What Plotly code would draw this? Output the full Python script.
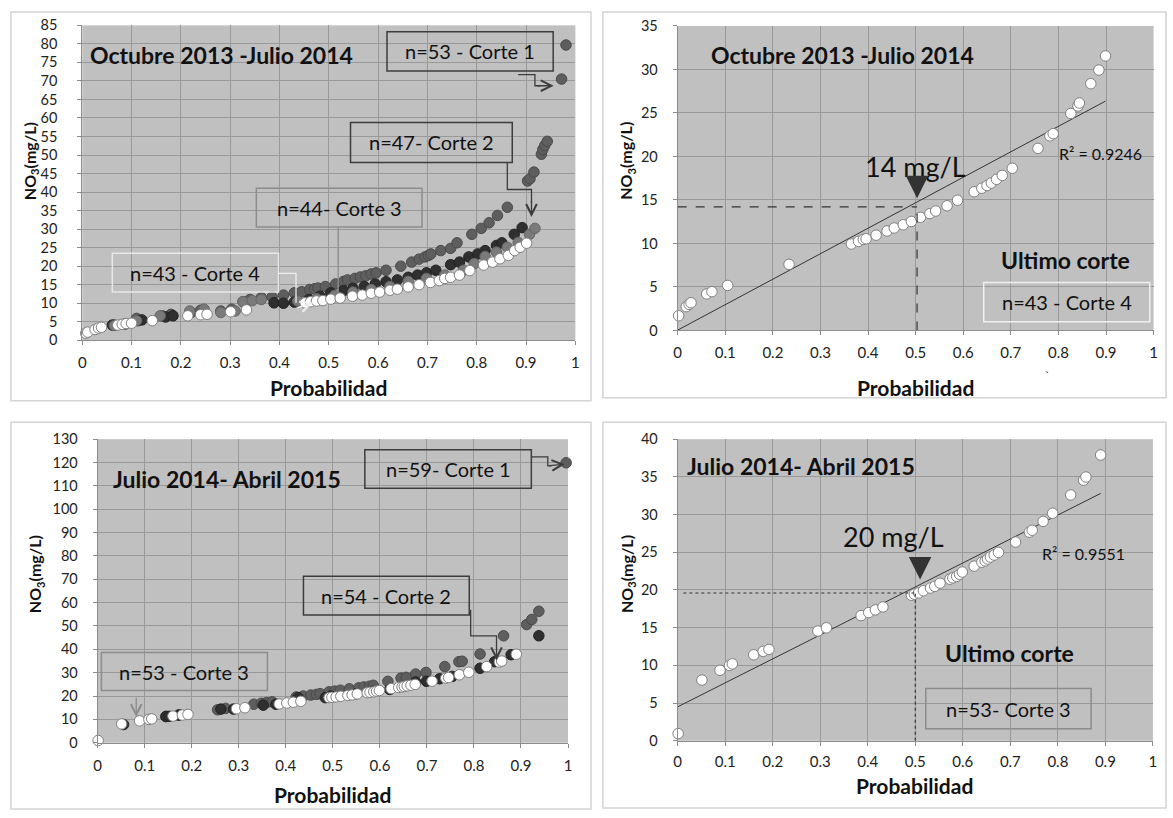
import numpy as np
import plotly.graph_objects as go

# ---------------- DATA ----------------
# Panel 1: Octubre 2013 - Julio 2014, all cuts
p1_c1_x = [0.065, 0.11, 0.162, 0.18, 0.221, 0.24, 0.281, 0.303, 0.326, 0.34, 0.363, 0.385, 0.408, 0.43, 0.445,
           0.461, 0.471, 0.478, 0.493, 0.514, 0.53, 0.538, 0.553, 0.564, 0.575, 0.586, 0.596, 0.616, 0.646, 0.668,
           0.683, 0.695, 0.702, 0.707, 0.727, 0.747, 0.76, 0.79, 0.809, 0.825, 0.842, 0.862, 0.903, 0.908, 0.916,
           0.931, 0.934, 0.938, 0.943, 0.972, 0.981]
p1_c1_y = [4.1, 5.9, 6.6, 7.0, 7.5, 8.1, 7.9, 8.4, 10.4, 11.0, 11.5, 11.7, 12.2, 12.8, 13.1,
           13.7, 13.9, 14.1, 14.5, 15.2, 15.9, 16.3, 16.7, 17.1, 17.4, 17.9, 18.2, 18.9, 20.0, 21.1,
           21.9, 22.5, 22.9, 23.3, 24.2, 24.8, 26.3, 28.6, 30.2, 31.7, 33.7, 35.9, 43.0, 43.6, 45.4,
           50.2, 51.5, 52.6, 53.7, 70.5, 79.7]

p1_c2_x = [0.061, 0.087, 0.113, 0.121, 0.169, 0.184, 0.389, 0.408, 0.43, 0.46, 0.482, 0.504, 0.53, 0.549, 0.572,
           0.594, 0.616, 0.639, 0.661, 0.68, 0.698, 0.717, 0.747, 0.765, 0.784, 0.802, 0.817, 0.84, 0.851, 0.876, 0.892]
p1_c2_y = [4.1, 4.4, 5.3, 5.5, 6.3, 6.6, 10.1, 10.0, 10.3, 11.0, 11.9, 12.8, 13.4, 14.0, 14.5,
           15.2, 15.8, 16.3, 17.0, 17.6, 18.2, 18.9, 20.4, 21.1, 22.5, 23.3, 24.2, 25.6, 26.3, 28.6, 30.4]

p1_c3_x = [0.065, 0.11, 0.158, 0.218, 0.247, 0.281, 0.31, 0.326, 0.345, 0.363, 0.437, 0.475, 0.512, 0.549, 0.586,
           0.624, 0.661, 0.698, 0.735, 0.773, 0.795, 0.817, 0.84, 0.862, 0.884, 0.907, 0.918]
p1_c3_y = [4.0, 5.3, 6.6, 7.9, 8.4, 7.5, 7.9, 10.4, 10.7, 11.0, 10.6, 11.2, 12.1, 13.0, 13.7,
           14.5, 15.9, 16.7, 17.6, 18.9, 20.7, 22.6, 23.8, 25.1, 26.4, 28.6, 30.2]

p1_c4_x = [0.007, 0.011, 0.026, 0.033, 0.039, 0.072, 0.081, 0.089, 0.1, 0.142, 0.214, 0.24, 0.253, 0.301, 0.333,
           0.452, 0.463, 0.475, 0.488, 0.504, 0.523, 0.548, 0.568, 0.586, 0.603, 0.624, 0.639, 0.661, 0.683, 0.706,
           0.724, 0.735, 0.747, 0.765, 0.786, 0.814, 0.832, 0.847, 0.864, 0.877, 0.888, 0.901]
p1_c4_y = [1.9, 2.2, 2.9, 3.3, 3.5, 4.1, 4.3, 4.5, 4.6, 5.3, 6.6, 6.9, 7.0, 7.7, 8.2,
           10.1, 10.4, 10.6, 10.7, 11.1, 11.4, 11.9, 12.2, 12.7, 13.0, 13.5, 13.8, 14.4, 15.0, 15.6,
           16.1, 16.7, 17.0, 17.6, 18.8, 20.3, 21.1, 22.0, 22.9, 24.2, 25.1, 26.2]

# Panel 2: Octubre 2013 - Julio 2014, last cut (Corte 4)
p2_x = [0.002, 0.018, 0.024, 0.028, 0.061, 0.072, 0.105, 0.234, 0.365, 0.38, 0.39, 0.396, 0.417, 0.44, 0.455,
        0.474, 0.491, 0.51, 0.53, 0.542, 0.566, 0.588, 0.623, 0.639, 0.65, 0.659, 0.67, 0.682, 0.703, 0.757,
        0.782, 0.789, 0.826, 0.841, 0.844, 0.868, 0.885, 0.899]
p2_y = [1.69, 2.74, 3.0, 3.19, 4.2, 4.46, 5.18, 7.6, 9.94, 10.24, 10.46, 10.54, 10.95, 11.44, 11.78,
        12.15, 12.53, 13.0, 13.43, 13.73, 14.33, 14.97, 15.94, 16.35, 16.65, 16.95, 17.37, 17.82, 18.64, 20.93,
        22.36, 22.62, 24.94, 25.8, 26.14, 28.36, 29.93, 31.55]
p2_trend_slope, p2_trend_intercept = 29.28, 0.04   # linear trend line as drawn in the source
p2_r2 = "0.9246"
p2_median = 14.2

# Panel 3: Julio 2014 - Abril 2015, all cuts
p3_c1_x = [0.146, 0.174, 0.255, 0.272, 0.332, 0.348, 0.359, 0.371, 0.422, 0.437, 0.453, 0.465, 0.473, 0.492, 0.504,
           0.516, 0.535, 0.555, 0.566, 0.578, 0.586, 0.617, 0.645, 0.656, 0.676, 0.698, 0.738, 0.768, 0.775, 0.813,
           0.863, 0.912, 0.923, 0.938, 0.996]
p3_c1_y = [11.3, 12.0, 14.1, 14.7, 16.5, 16.9, 17.2, 17.5, 19.6, 20.0, 20.4, 20.7, 21.0, 21.8, 22.1,
           22.5, 23.1, 23.5, 23.9, 24.2, 24.6, 26.3, 27.7, 28.0, 29.4, 30.1, 32.6, 34.7, 34.9, 38.0,
           45.8, 50.6, 52.8, 56.3, 119.9]

p3_c2_x = [0.055, 0.145, 0.152, 0.172, 0.262, 0.289, 0.352, 0.379, 0.426, 0.484, 0.496, 0.55, 0.585, 0.621, 0.676,
           0.699, 0.727, 0.754, 0.813, 0.844, 0.879, 0.938]
p3_c2_y = [7.8, 11.2, 11.3, 11.8, 14.4, 14.4, 16.1, 16.5, 19.3, 19.3, 20.0, 21.0, 22.0, 22.8, 26.0,
           26.3, 27.4, 28.4, 31.9, 34.7, 37.7, 45.8]

# Panel 3 white series & Panel 4: Corte 3 (last cut)
p4_x = [0.001, 0.051, 0.089, 0.109, 0.115, 0.16, 0.18, 0.192, 0.295, 0.313, 0.386, 0.402, 0.416, 0.432, 0.492,
        0.498, 0.507, 0.517, 0.532, 0.541, 0.552, 0.573, 0.579, 0.587, 0.593, 0.599, 0.624, 0.64, 0.647, 0.652,
        0.658, 0.666, 0.675, 0.711, 0.74, 0.746, 0.769, 0.789, 0.827, 0.854, 0.859, 0.89]
p4_y = [0.95, 8.05, 9.35, 10.0, 10.2, 11.4, 11.86, 12.12, 14.55, 14.98, 16.6, 17.0, 17.36, 17.75, 19.3,
        19.44, 19.6, 19.9, 20.26, 20.48, 20.9, 21.43, 21.6, 21.8, 22.08, 22.38, 23.16, 23.68, 23.85, 24.1,
        24.37, 24.63, 24.98, 26.36, 27.66, 27.92, 29.1, 30.17, 32.6, 34.55, 34.98, 37.9]
p4_trend_slope, p4_trend_intercept = 31.8, 4.5
p4_r2 = "0.9551"
p4_median = 19.6

x_ticks = [0, 0.1, 0.2, 0.3, 0.4, 0.5, 0.6, 0.7, 0.8, 0.9, 1]

# ---------------- STYLE ----------------
FONT = "Lato"
BG = "#c0c0c0"
GRID = "#999999"
C1 = "#5e5e5e"
C2 = "#2f2f2f"
C3 = "#7a7a7a"
C4 = "#ffffff"
W, H = 1173, 818
MS = 10.5


def px2x(px):
    return px / W


def px2y(py):
    return 1 - py / H


fig = go.Figure()

# panel: x-pixels, y-pixels, ymax, dtick, y-label standoff, x-label standoff
dom = {
    1: ([78.8, 575.3], [16.7, 338.3], 85, 5, 17, 5),
    2: ([678.3, 1157.5], [17.3, 328.3], 35, 5, 12, 5),
    3: ([94.3, 567.9], [439.3, 749.3], 130, 10, 12, 5),
    4: ([678.3, 1156.8], [439.3, 747.3], 40, 5, 12, 3),
}

layout = dict(width=W, height=H, margin=dict(l=0, r=0, t=0, b=0), paper_bgcolor="white",
              plot_bgcolor=BG, showlegend=False, font=dict(family=FONT, color="#1a1a1a", size=14))
for k, (xp, yp, ymax, dt, ysd, xsd) in dom.items():
    sx = "" if k == 1 else str(k)
    layout["xaxis" + sx] = dict(domain=[px2x(xp[0]), px2x(xp[1])], range=[0, 1], tickvals=x_ticks,
                                showgrid=True, gridcolor=GRID, gridwidth=1, zeroline=False,
                                showline=True, linecolor="#8c8c8c", ticks="outside", ticklen=4,
                                tickcolor="#8c8c8c", anchor="y" + sx, ticklabelstandoff=xsd,
                                tickfont=dict(size=15, family=FONT, color="#222"))
    layout["yaxis" + sx] = dict(domain=[px2y(yp[1]), px2y(yp[0])], range=[0, ymax], dtick=dt,
                                showgrid=True, gridcolor=GRID, gridwidth=1, zeroline=False,
                                showline=True, linecolor="#8c8c8c", ticks="outside", ticklen=4,
                                tickcolor="#8c8c8c", anchor="x" + sx, ticklabelstandoff=ysd,
                                tickfont=dict(size=14.5, family=FONT, color="#222"))
fig.update_layout(**layout)


def add_pts(x, y, color, line, ax):
    fig.add_trace(go.Scatter(x=x, y=y, mode="markers", xaxis="x" + ax, yaxis="y" + ax, cliponaxis=False,
                             marker=dict(size=MS, color=color, line=dict(color=line, width=1)),
                             hoverinfo="skip"))


add_pts(p1_c1_x, p1_c1_y, C1, "#4a4a4a", "")
add_pts(p1_c2_x, p1_c2_y, C2, "#222222", "")
add_pts(p1_c3_x, p1_c3_y, C3, "#666666", "")
add_pts(p1_c4_x, p1_c4_y, C4, "#808080", "")

add_pts(p3_c1_x, p3_c1_y, C1, "#4a4a4a", "3")
add_pts(p3_c2_x, p3_c2_y, C2, "#222222", "3")
add_pts(p4_x, p4_y, C4, "#808080", "3")


def add_trend(x, slope, inter, ax):
    xs = np.array([0, max(x)])
    fig.add_trace(go.Scatter(x=xs, y=slope * xs + inter, mode="lines", xaxis="x" + ax, yaxis="y" + ax,
                             line=dict(color="#333333", width=1), hoverinfo="skip"))


add_trend(p2_x, p2_trend_slope, p2_trend_intercept, "2")
add_trend(p4_x, p4_trend_slope, p4_trend_intercept, "4")
add_pts(p2_x, p2_y, C4, "#808080", "2")
add_pts(p4_x, p4_y, C4, "#808080", "4")

shapes = []
ann = []

for (x0, y0, x1, y1) in [(7, 3, 591, 400), (603, 3, 1170, 397), (7, 422, 591, 817), (603, 422, 1170, 816)]:
    shapes.append(dict(type="rect", xref="paper", yref="paper", x0=px2x(x0), x1=px2x(x1), y0=px2y(y1), y1=px2y(y0),
                       line=dict(color="#d4d4d4", width=1.5), fillcolor="rgba(0,0,0,0)", layer="below"))


def box(ax, x0, x1, y0, y1, color, text, size=20):
    shapes.append(dict(type="rect", xref="x" + ax, yref="y" + ax, x0=x0, x1=x1, y0=y0, y1=y1,
                       line=dict(color=color, width=1.5), fillcolor="rgba(0,0,0,0)"))
    ann.append(dict(xref="x" + ax, yref="y" + ax, x=(x0 + x1) / 2, y=(y0 + y1) / 2, text=text, showarrow=False,
                    xanchor="center", yanchor="middle", font=dict(size=size, family=FONT, color="#111")))


def path(ax, d, color, width=1.3, dash=None):
    shapes.append(dict(type="path", xref="x" + ax, yref="y" + ax, path=d,
                       line=dict(color=color, width=width, dash=dash)))


def arrow(ax, x0, y0, x1, y1, color, head=5, size=1.6, width=1.3):
    ann.append(dict(xref="x" + ax, yref="y" + ax, axref="x" + ax, ayref="y" + ax, x=x1, y=y1, ax=x0, ay=y0,
                    text="", showarrow=True, arrowhead=head, arrowsize=size, arrowwidth=width, arrowcolor=color,
                    standoff=0, startstandoff=0))


def text(ax, x, y, t, size, bold=False, xanchor="center"):
    ann.append(dict(xref="x" + ax, yref="y" + ax, x=x, y=y, text=("<b>%s</b>" % t) if bold else t,
                    showarrow=False, xanchor=xanchor, yanchor="middle",
                    font=dict(size=size, family=FONT, color="#111")))


def paper_text(x, y, t, size, angle=0):
    ann.append(dict(xref="paper", yref="paper", x=px2x(x), y=px2y(y), text=t, showarrow=False, textangle=angle,
                    xanchor="center", yanchor="middle", font=dict(size=size, family=FONT, color="#111")))


# ---- Panel 1 ----
text("", 0.283, 77.1, "Octubre 2013 -Julio 2014", 23, bold=True)
box("", 0.618, 0.955, 72.7, 83.3, "#3c3c3c", "n=53 - Corte 1")
path("", "M 0.884,71.7 H 0.918 V 68.7 H 0.93", "#3c3c3c")
arrow("", 0.92, 68.7, 0.956, 68.7, "#3c3c3c")
box("", 0.544, 0.872, 48.0, 58.8, "#3c3c3c", "n=47- Corte 2")
path("", "M 0.862,48 V 40.7 H 0.911 V 37", "#3c3c3c")
arrow("", 0.911, 38, 0.911, 33.3, "#3c3c3c")
box("", 0.353, 0.689, 30.6, 41.0, "#8c8c8c", "n=44- Corte 3")
path("", "M 0.519,30.6 V 12.8", "#8c8c8c")
box("", 0.061, 0.398, 13.0, 23.5, "#e8e8e8", "n=43 - Corte 4")
path("", "M 0.398,18.05 H 0.4335 V 10.1", "#eeeeee")
arrow("", 0.4335, 8.6, 0.468, 10.2, "#f2f2f2")

# ---- Panel 2 ----
text("2", 0.347, 31.7, "Octubre 2013 -Julio 2014", 23, bold=True)
text("2", 0.5, 18.9, "14 mg/L", 27)
arrow("2", 0.503, 17.3, 0.503, 15.2, "#333333", head=2, size=0.9, width=5)
path("2", "M 0,%s H 0.503" % p2_median, "#333333", 1.2, "dash")
path("2", "M 0.503,0 V %s" % (p2_median + 0.3), "#333333", 1.2, "dash")
text("2", 0.889, 20.3, "R² = " + p2_r2, 16)
text("2", 0.815, 8.1, "Ultimo corte", 23, bold=True)
box("2", 0.643, 0.992, 1.01, 5.51, "#f0f0f0", "n=43 - Corte 4")
paper_text(1051, 374, "`", 12)

# ---- Panel 3 ----
text("3", 0.276, 112.9, "Julio 2014- Abril 2015", 23, bold=True)
box("3", 0.568, 0.922, 109.0, 125.5, "#3c3c3c", "n=59- Corte 1")
path("3", "M 0.922,122.4 H 0.957 V 118.6 H 0.965", "#3c3c3c")
arrow("3", 0.957, 118.6, 0.993, 119.3, "#3c3c3c")
box("3", 0.4375, 0.79, 54.7, 71.3, "#3c3c3c", "n=54 - Corte 2")
path("3", "M 0.793,57 V 45.8 H 0.848 V 40", "#3c3c3c")
arrow("3", 0.848, 41, 0.848, 35.3, "#3c3c3c")
box("3", 0.008, 0.361, 22.4, 38.6, "#8c8c8c", "n=53 - Corte 3")
path("3", "M 0.082,19.3 V 13", "#8c8c8c")
arrow("3", 0.082, 14, 0.082, 11.0, "#8c8c8c")

# ---- Panel 4 ----
text("4", 0.26, 36.4, "Julio 2014- Abril 2015", 23, bold=True)
text("4", 0.455, 27.1, "20 mg/L", 27)
arrow("4", 0.51, 23.5, 0.51, 21.4, "#333333", head=2, size=0.9, width=5)
path("4", "M 0.012,%s H 0.5" % p4_median, "#333333", 1.2, "dot")
path("4", "M 0.5,0 V %s" % p4_median, "#333333", 1.2, "dot")
text("4", 0.854, 24.85, "R² = " + p4_r2, 16)
text("4", 0.698, 11.7, "Ultimo corte", 23, bold=True)
box("4", 0.522, 0.87, 1.6, 6.93, "#8c8c8c", "n=53- Corte 3")

# axis titles
for (x, y) in [(327, 387), (918, 387), (331, 802), (917, 793)]:
    paper_text(x, y, "<b>Probabilidad</b>", 21)
for (x, y) in [(26.6, 155), (627.3, 155), (31.4, 577), (627.3, 577)]:
    paper_text(x, y, "<b>NO<sub>3</sub>(mg/L)</b>", 16, angle=-90)

fig.update_layout(shapes=shapes, annotations=ann)
fig.write_html("out.html", config={"displayModeBar": False},
               post_script="document.body.style.margin='0px';")
